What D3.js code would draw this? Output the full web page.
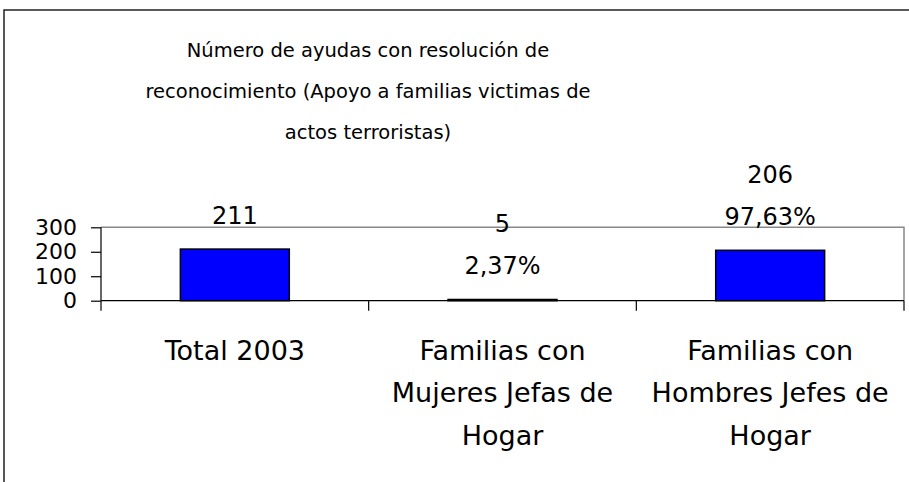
<!DOCTYPE html>
<html>
<head>
<meta charset="utf-8">
<script src="https://cdn.jsdelivr.net/npm/d3@7"></script>
<style>
  body { margin: 0; background: #fff; }
  svg text { font-family: "Century Gothic", "DejaVu Sans", sans-serif; fill: #000; }
</style>
</head>
<body>
<div id="container"></div>
<script>
// chart data
const categories = [
  ["Total 2003"],
  ["Familias con", "Mujeres Jefas de", "Hogar"],
  ["Familias con", "Hombres Jefes de", "Hogar"]
];
const values = [211, 5, 206];
const percents = [null, "2,37%", "97,63%"];
const yTicks = [0, 100, 200, 300];
const titleLines = [
  "Número de ayudas con resolución de",
  "reconocimiento (Apoyo a familias victimas de",
  "actos terroristas)"
];

const width = 909, height = 482;
const plot = { left: 101, right: 904, top: 227.3, bottom: 300.7 };

const svg = d3.select("#container")
  .append("svg")
  .attr("width", width)
  .attr("height", height);

// outer chart border (only left and top visible)
svg.append("rect")
  .attr("x", 4).attr("y", 10)
  .attr("width", width + 20).attr("height", height + 20)
  .attr("fill", "none")
  .attr("stroke", "#222")
  .attr("stroke-width", 1.5);

// title
svg.append("text")
  .attr("text-anchor", "middle")
  .attr("font-size", 19.5)
  .selectAll("tspan")
  .data(titleLines)
  .join("tspan")
  .attr("x", 368)
  .attr("y", (d, i) => 56.7 + i * 41)
  .text(d => d);

const idx = values.map((d, i) => i);
const x = d3.scaleBand()
  .domain(idx)
  .range([plot.left, plot.right])
  .paddingInner(0.593)
  .paddingOuter(0.593 / 2);

const y = d3.scaleLinear()
  .domain([0, 300])
  .range([plot.bottom, plot.top]);

// plot area frame: gray top and right
svg.append("path")
  .attr("d", `M${plot.left},${plot.top}H${plot.right}V${plot.bottom}`)
  .attr("fill", "none")
  .attr("stroke", "#888")
  .attr("stroke-width", 1.5);

// bars
svg.selectAll("rect.bar")
  .data(values)
  .join("rect")
  .attr("class", "bar")
  .attr("x", (d, i) => x(i))
  .attr("y", d => y(d))
  .attr("width", x.bandwidth())
  .attr("height", d => y(0) - y(d))
  .attr("fill", "#0000ff")
  .attr("stroke", "#000")
  .attr("stroke-width", 1.5);

// y axis
const yAxis = svg.append("g")
  .attr("transform", `translate(${plot.left},0)`)
  .call(d3.axisLeft(y).tickValues(yTicks).tickSize(10).tickPadding(14));
yAxis.selectAll("path, line").attr("stroke", "#000").attr("stroke-width", 1.2);
yAxis.select(".domain").attr("d", `M0,${plot.top}V${plot.bottom}`);
yAxis.selectAll("text")
  .attr("font-size", 22)
  .attr("font-family", null);

// x axis line and boundary ticks
const bounds = idx.map(i => x(i) - (x.step() - x.bandwidth()) / 2).concat([plot.right]);
svg.append("line")
  .attr("x1", plot.left).attr("x2", plot.right)
  .attr("y1", y(0)).attr("y2", y(0))
  .attr("stroke", "#000").attr("stroke-width", 1.2);
svg.selectAll("line.xtick")
  .data(bounds)
  .join("line")
  .attr("class", "xtick")
  .attr("x1", d => d).attr("x2", d => d)
  .attr("y1", y(0)).attr("y2", y(0) + 10)
  .attr("stroke", "#000").attr("stroke-width", 1.2);

// category labels
svg.selectAll("text.cat")
  .data(categories)
  .join("text")
  .attr("class", "cat")
  .attr("text-anchor", "middle")
  .attr("font-size", 27)
  .each(function (lines, i) {
    d3.select(this).selectAll("tspan")
      .data(lines)
      .join("tspan")
      .attr("x", x(i) + x.bandwidth() / 2)
      .attr("y", (d, j) => 359.5 + j * 42.7)
      .text(d => d);
  });

// data labels (value, then percent below)
svg.selectAll("text.lbl")
  .data(values)
  .join("text")
  .attr("class", "lbl")
  .attr("text-anchor", "middle")
  .attr("font-size", 24)
  .each(function (v, i) {
    const lines = percents[i] ? [String(v), percents[i]] : [String(v)];
    const base = y(v) - 25;
    d3.select(this).selectAll("tspan")
      .data(lines)
      .join("tspan")
      .attr("x", x(i) + x.bandwidth() / 2)
      .attr("y", (d, j) => base - (lines.length - 1 - j) * 42.5)
      .text(d => d);
  });
</script>
</body>
</html>
